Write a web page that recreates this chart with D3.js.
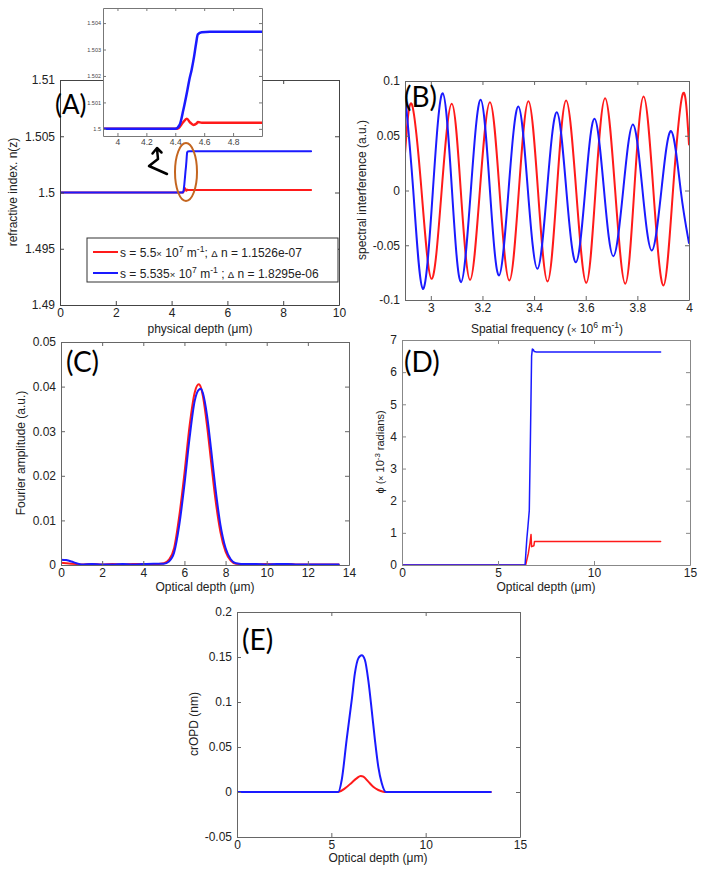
<!DOCTYPE html>
<html><head><meta charset="utf-8">
<script src="https://cdn.jsdelivr.net/npm/d3@7"></script>
<style>
body{margin:0;background:#fff}
text{font-family:"Liberation Sans",Arial,sans-serif;fill:#222}
.plab{font-family:Lato,"Open Sans",sans-serif;font-size:28px;fill:#000}
</style>
</head><body>
<svg id="c" width="704" height="876"></svg>
<script>
// ---------- DATA ----------
// Panel A: refractive index vs physical depth (µm)
const aBlueX = [0, 4.40, 4.43, 4.456, 4.484, 4.497, 4.513, 4.53, 4.544, 4.556, 4.583, 4.64, 9.0];
const aBlueY = [1.5, 1.5, 1.50015, 1.50072, 1.50147, 1.50185, 1.50223, 1.50273, 1.50323, 1.50357, 1.50365, 1.50367, 1.50367];
const aRedX  = [0, 4.40, 4.423, 4.453, 4.48, 4.503, 4.526, 4.545, 4.556, 4.584, 9.0];
const aRedY  = [1.5, 1.5, 1.50003, 1.50024, 1.50038, 1.50024, 1.50015, 1.50019, 1.50026, 1.50023, 1.50023];
const aXTicks = [0, 2, 4, 6, 8, 10];
const aYTicks = [1.49, 1.495, 1.5, 1.505, 1.51];
const insetXTicks = [4, 4.2, 4.4, 4.6, 4.8];
const insetYTicks = [1.5, 1.501, 1.502, 1.503, 1.504];
const legendLabels = [
  [["s = 5.5",""],["\u00d7","small"],[" 10",""],["7","sup"],[" m",""],["-1","sup"],["; ",""],["\u0394","small"],[" n = 1.1526e-07",""]],
  [["s = 5.535",""],["\u00d7","small"],[" 10",""],["7","sup"],[" m",""],["-1","sup"],[" ; ",""],["\u0394","small"],[" n = 1.8295e-06",""]]
];

// Panel B: spectral interference vs spatial frequency (x 10^6 m^-1)
const bRedX = [2.9, 2.926, 2.964, 3.003, 3.042, 3.081, 3.116, 3.152, 3.19, 3.229, 3.266, 3.304, 3.341, 3.378, 3.415, 3.452, 3.488, 3.524, 3.563, 3.602, 3.638, 3.675, 3.714, 3.753, 3.788, 3.824, 3.862, 3.901, 3.938, 3.976, 4.0];
const bRedY = [0.0335, 0.079, 0, -0.0807, 0, 0.0792, 0, -0.0816, 0, 0.0807, 0, -0.0822, 0, 0.0816, 0, -0.0831, 0, 0.0822, 0, -0.0843, 0, 0.0843, 0, -0.0852, 0, 0.0858, 0, -0.0868, 0, 0.0883, 0.042];
const bBlueX = [2.9, 2.932, 2.969, 3.008, 3.046, 3.082, 3.117, 3.155, 3.193, 3.229, 3.264, 3.301, 3.339, 3.376, 3.413, 3.45, 3.488, 3.525, 3.562, 3.598, 3.634, 3.671, 3.707, 3.745, 3.783, 3.82, 3.856, 3.893, 3.931, 3.968, 4.0];
const bBlueY = [0.088, 0, -0.0898, 0, 0.0889, 0, -0.0837, 0, 0.0828, 0, -0.0776, 0, 0.0767, 0, -0.0715, 0, 0.0715, 0, -0.0655, 0, 0.0655, 0, -0.060, 0, 0.0603, 0, -0.0548, 0, 0.0542, 0, -0.048];
const bXTicks = [3, 3.2, 3.4, 3.6, 3.8, 4];
const bYTicks = [-0.1, -0.05, 0, 0.05, 0.1];

// Panel C: Fourier amplitude vs optical depth (µm)
const cX    = [0, 0.25, 0.5, 0.75, 1, 1.5, 2, 2.5, 3, 3.5, 4, 4.5, 5, 5.25, 5.5, 5.75, 6, 6.25, 6.5, 6.7, 6.8, 6.9, 7.1, 7.3, 7.5, 7.75, 8, 8.25, 8.5, 9, 9.5, 10, 10.5, 11, 11.5, 12, 12.5, 13, 13.5];
const cRed  = [0.0005, 0.0004, 0.0003, 0.0002, 0.0001, 0.0002, 0.0001, 0.0002, 0.0001, 0.0002, 0.0002, 0.0002, 0.0004, 0.0012, 0.0038, 0.0110, 0.0205, 0.0312, 0.0387, 0.0405, 0.0398, 0.0378, 0.0312, 0.0230, 0.0150, 0.0074, 0.0030, 0.0010, 0.0003, 0.0002, 0.0001, 0.0002, 0.0001, 0.0002, 0.0001, 0.0001, 0.0001, 0.0001, 0.0001];
const cBlue = [0.0012, 0.0011, 0.0008, 0.0004, 0.0001, 0.0002, 0.0001, 0.0001, 0.0002, 0.0001, 0.0002, 0.0003, 0.0003, 0.0008, 0.0028, 0.0090, 0.0180, 0.0285, 0.0368, 0.0393, 0.0395, 0.0385, 0.0335, 0.0258, 0.0175, 0.0090, 0.0038, 0.0013, 0.0004, 0.0002, 0.0002, 0.0001, 0.0002, 0.0002, 0.0001, 0.0001, 0.0001, 0.0001, 0.0001];
const cXTicks = [0, 2, 4, 6, 8, 10, 12, 14];
const cYTicks = [0, 0.01, 0.02, 0.03, 0.04, 0.05];

// Panel D: phase (x 10^-3 rad) vs optical depth
const dBlueX = [0, 6.41, 6.5, 6.56, 6.63, 6.69, 6.75, 6.79, 6.84, 6.89, 7.0, 13.47];
const dBlueY = [0, 0, 0.8, 1.2, 1.7, 4.0, 6.5, 6.72, 6.70, 6.64, 6.63, 6.63];
const dRedX  = [0, 6.44, 6.58, 6.67, 6.72, 6.75, 6.87, 6.9, 13.47];
const dRedY  = [0, 0, 0.36, 0.7, 0.95, 0.57, 0.6, 0.73, 0.73];
const dXTicks = [0, 5, 10, 15];
const dYTicks = [0, 1, 2, 3, 4, 5, 6, 7];

// Panel E: crOPD (nm) vs optical depth
const eBlueX = [0, 5.37, 5.55, 5.81, 6.08, 6.25, 6.43, 6.61, 6.78, 6.96, 7.14, 7.31, 7.49, 7.67, 7.9, 13.45];
const eBlueY = [0, 0, 0.0133, 0.058, 0.102, 0.132, 0.1485, 0.152, 0.1467, 0.124, 0.091, 0.058, 0.028, 0.010, 0, 0];
const eRedX  = [0, 5.37, 5.72, 6.08, 6.34, 6.56, 6.7, 6.96, 7.22, 7.49, 7.75, 7.9, 13.45];
const eRedY  = [0, 0, 0.004, 0.0104, 0.0152, 0.0178, 0.017, 0.0115, 0.0059, 0.0022, 0.0003, 0, 0];
const eXTicks = [0, 5, 10, 15];
const eYTicks = [-0.05, 0, 0.05, 0.1, 0.15, 0.2];

const RED = "#ff1a1a", BLUE = "#1a1aff";

// ---------- DRAWING ----------
const svg = d3.select("#c");
const defs = svg.append("defs");
const fmt = d => String(+(+d).toFixed(4));
let clipId = 0;

function rich(sel, segs, fs) {
  let shift = 0;
  segs.forEach(([t, kind]) => {
    const ts = sel.append("tspan").text(t);
    if (kind === "sup") {
      ts.attr("font-size", fs * 0.72).attr("dy", -fs * 0.4 - shift); shift = -fs * 0.4;
    } else {
      ts.attr("dy", -shift); shift = 0;
      if (kind === "small") ts.attr("font-size", fs * 0.8);
    }
  });
}

function panel(c) {
  const g = svg.append("g");
  const x = d3.scaleLinear().domain(c.xd).range([c.l, c.r]);
  const y = d3.scaleLinear().domain(c.yd).range([c.b, c.t]);
  const id = "clip" + (clipId++);
  defs.append("clipPath").attr("id", id).append("rect")
    .attr("x", c.l).attr("y", c.t - 2).attr("width", c.r - c.l).attr("height", c.b - c.t + 4);
  g.append("rect").attr("x", c.l).attr("y", c.t).attr("width", c.r - c.l).attr("height", c.b - c.t).attr("fill", "#fff");
  const fs = c.fs || 12, tk = c.tk || 4, col = c.axisCol || "#666";
  const styleAx = (a, tfs) => {
    a.selectAll("path.domain").attr("stroke", col).attr("stroke-width", 1);
    a.selectAll(".tick line").attr("stroke", col);
    a.selectAll(".tick text").attr("font-size", tfs).style("fill", c.tcol || "#222")
      .attr("font-family", '"Liberation Sans",Arial,sans-serif');
  };
  (c.series || []).forEach(s => {
    const pts = s.x.map((v, i) => [v, s.y[i]]);
    g.append("path").datum(pts).attr("clip-path", `url(#${id})`)
      .attr("d", d3.line().x(d => x(d[0])).y(d => y(d[1])).curve(s.curve || d3.curveLinear))
      .attr("fill", "none").attr("stroke", s.color).attr("stroke-width", s.w || 2)
      .attr("stroke-linejoin", "round").attr("stroke-linecap", "round");
  });
  styleAx(g.append("g").attr("transform", `translate(0,${c.b})`)
    .call(d3.axisBottom(x).tickValues(c.xt).tickFormat(c.xf || fmt).tickSize(-tk).tickSizeOuter(0).tickPadding(c.xpad || 3)), c.xfs || fs);
  styleAx(g.append("g").attr("transform", `translate(0,${c.t})`)
    .call(d3.axisTop(x).tickValues(c.xt).tickFormat("").tickSize(-tk).tickSizeOuter(0)), fs);
  styleAx(g.append("g").attr("transform", `translate(${c.l},0)`)
    .call(d3.axisLeft(y).tickValues(c.yt).tickFormat(c.yf || fmt).tickSize(-tk).tickSizeOuter(0).tickPadding(c.ypad || 5)), c.yfs || fs);
  styleAx(g.append("g").attr("transform", `translate(${c.r},0)`)
    .call(d3.axisRight(y).tickValues(c.yt).tickFormat("").tickSize(-tk).tickSizeOuter(0)), fs);
  if (c.xlab) {
    const t = g.append("text").attr("x", c.xlab.x).attr("y", c.xlab.y).attr("text-anchor", "middle").attr("font-size", c.xlab.fs || 12);
    rich(t, c.xlab.segs, c.xlab.fs || 12);
  }
  if (c.ylab) {
    const t = g.append("text").attr("transform", `translate(${c.ylab.x},${c.ylab.y}) rotate(-90)`)
      .attr("text-anchor", "middle").attr("font-size", c.ylab.fs || 12);
    rich(t, c.ylab.segs, c.ylab.fs || 12);
  }
  if (c.letter) g.append("text").attr("class", "plab").attr("x", c.letter.x).attr("y", c.letter.y)
    .style("font-size", (c.letter.fs || 28) + "px").text(c.letter.t);
  return {g, x, y};
}

// Panel A
panel({
  l: 60, r: 339, t: 80, b: 305, xd: [0, 10], yd: [1.49, 1.51], xt: aXTicks, yt: aYTicks,
  axisCol: "#444",
  series: [
    {x: aRedX, y: aRedY, color: RED, w: 2},
    {x: aBlueX, y: aBlueY, color: BLUE, w: 2}
  ],
  xlab: {x: 200, y: 333, segs: [["physical depth (\u03bcm)", ""]]},
  ylab: {x: 17, y: 192, segs: [["refractive index. n(z)", ""]]},
  letter: {x: 55, y: 114, t: "(A)", fs: 26}
});

// Inset of A (zoom on the step)
panel({
  l: 103, r: 262, t: 8, b: 136, xd: [3.9, 5.0], yd: [1.49973, 1.50457], xt: insetXTicks, yt: insetYTicks,
  axisCol: "#777", tk: 3, xfs: 8.5, yfs: 5.5, xpad: 3, ypad: 2, tcol: "#444",
  yf: d => String(+(+d).toFixed(3)),
  series: [
    {x: aRedX, y: aRedY, color: RED, w: 2.5, curve: d3.curveMonotoneX},
    {x: aBlueX, y: aBlueY, color: BLUE, w: 2.5, curve: d3.curveMonotoneX}
  ]
});

// Highlight ellipse and arrow in A
svg.append("ellipse").attr("cx", 186).attr("cy", 172).attr("rx", 11).attr("ry", 29)
  .attr("fill", "none").attr("stroke", "#c4651f").attr("stroke-width", 2);
svg.append("path").attr("d", "M167,174 L149,166 L158,159 L157,149 M152.5,153.5 L157,148 L161.5,152.5")
  .attr("fill", "none").attr("stroke", "#000").attr("stroke-width", 2.5)
  .attr("stroke-linecap", "round").attr("stroke-linejoin", "round");

// Legend of A
const lg = svg.append("g");
lg.append("rect").attr("x", 87).attr("y", 238).attr("width", 251).attr("height", 44)
  .attr("fill", "#fff").attr("stroke", "#333").attr("stroke-width", 1);
legendLabels.forEach((segs, i) => {
  const yy = 252 + i * 21;
  lg.append("line").attr("x1", 93).attr("x2", 118).attr("y1", yy).attr("y2", yy)
    .attr("stroke", i === 0 ? RED : BLUE).attr("stroke-width", 2);
  const t = lg.append("text").attr("x", 120).attr("y", yy + 4.5).attr("font-size", 12);
  rich(t, segs, 12);
});

// Panel B
panel({
  l: 405, r: 689, t: 81, b: 300, xd: [2.9, 4.0], yd: [-0.1, 0.1], xt: bXTicks, yt: bYTicks,
  series: [
    {x: bRedX, y: bRedY, color: RED, w: 2, curve: d3.curveNatural},
    {x: bBlueX, y: bBlueY, color: BLUE, w: 2, curve: d3.curveNatural}
  ],
  xlab: {x: 547, y: 333, segs: [["Spatial frequency (", ""], ["\u00d7", "small"], [" 10", ""], ["6", "sup"], [" m", ""], ["-1", "sup"], [")", ""]]},
  ylab: {x: 366, y: 190, segs: [["spectral interference (a.u.)", ""]]},
  letter: {x: 404, y: 107, t: "(B)"}
});

// Panel C
panel({
  l: 61, r: 349, t: 342, b: 565, xd: [0, 14], yd: [0, 0.05], xt: cXTicks, yt: cYTicks,
  series: [
    {x: cX, y: cRed, color: RED, w: 2, curve: d3.curveMonotoneX},
    {x: cX, y: cBlue, color: BLUE, w: 2, curve: d3.curveMonotoneX}
  ],
  xlab: {x: 205, y: 591, segs: [["Optical depth (\u03bcm)", ""]]},
  ylab: {x: 25, y: 453, segs: [["Fourier amplitude (a.u.)", ""]]},
  letter: {x: 66, y: 372, t: "(C)"}
});

// Panel D
panel({
  l: 402, r: 690, t: 340, b: 565, xd: [0, 15], yd: [0, 7], xt: dXTicks, yt: dYTicks,
  axisCol: "#888",
  series: [
    {x: dRedX, y: dRedY, color: RED, w: 1.5},
    {x: dBlueX, y: dBlueY, color: BLUE, w: 1.5}
  ],
  xlab: {x: 546, y: 591, segs: [["Optical depth (\u03bcm)", ""]]},
  ylab: {x: 384, y: 452, fs: 11, segs: [["\u03d5 (", ""], ["\u00d7", "small"], [" 10", ""], ["-3", "sup"], [" radians)", ""]]},
  letter: {x: 404, y: 372, t: "(D)"}
});

// Panel E
panel({
  l: 237, r: 520, t: 612, b: 837, xd: [0, 15], yd: [-0.05, 0.2], xt: eXTicks, yt: eYTicks,
  series: [
    {x: eRedX, y: eRedY, color: RED, w: 2, curve: d3.curveMonotoneX},
    {x: eBlueX, y: eBlueY, color: BLUE, w: 2, curve: d3.curveMonotoneX}
  ],
  xlab: {x: 378, y: 862, segs: [["Optical depth (\u03bcm)", ""]]},
  ylab: {x: 198, y: 724, segs: [["crOPD (nm)", ""]]},
  letter: {x: 242, y: 650, t: "(E)"}
});
</script>
</body></html>
